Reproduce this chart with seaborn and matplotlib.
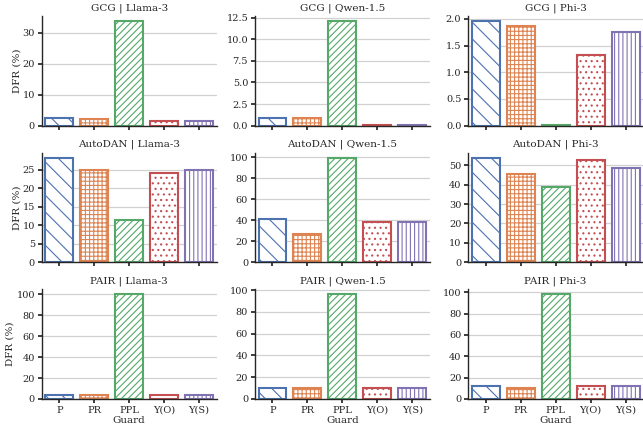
import numpy as np
import pandas as pd
import seaborn as sns
import matplotlib
matplotlib.use("Agg")
import matplotlib.pyplot as plt
from matplotlib.ticker import MaxNLocator

guards = ["P", "PR", "PPL", "Y(O)", "Y(S)"]
attacks = ["GCG", "AutoDAN", "PAIR"]
models = ["Llama-3", "Qwen-1.5", "Phi-3"]

gcg_llama = [2.6, 2.2, 33.8, 1.6, 1.6]
gcg_qwen = [0.9, 0.85, 12.1, 0.05, 0.03]
gcg_phi = [1.96, 1.86, 0.01, 1.32, 1.76]
autodan_llama = [28.3, 25.1, 11.5, 24.2, 25.1]
autodan_qwen = [41.0, 27.0, 99.7, 38.5, 38.8]
autodan_phi = [53.8, 45.5, 38.6, 52.8, 48.5]
pair_llama = [4.0, 4.0, 100.0, 4.0, 4.0]
pair_qwen = [10.0, 10.0, 96.0, 10.0, 10.0]
pair_phi = [12.0, 10.0, 98.0, 12.0, 12.0]

values = {
    ("GCG", "Llama-3"): gcg_llama, ("GCG", "Qwen-1.5"): gcg_qwen, ("GCG", "Phi-3"): gcg_phi,
    ("AutoDAN", "Llama-3"): autodan_llama, ("AutoDAN", "Qwen-1.5"): autodan_qwen, ("AutoDAN", "Phi-3"): autodan_phi,
    ("PAIR", "Llama-3"): pair_llama, ("PAIR", "Qwen-1.5"): pair_qwen, ("PAIR", "Phi-3"): pair_phi,
}

rows = []
for a in attacks:
    for m in models:
        for g, v in zip(guards, values[(a, m)]):
            rows.append({"Attack": a, "Model": m, "Guard": g, "DFR (%)": v})
df = pd.DataFrame(rows)

sns.set_theme(style="ticks", font="serif",
              rc={"axes.grid": True, "axes.grid.axis": "y", "grid.color": ".82",
                  "grid.linewidth": 0.9, "font.size": 7.5, "axes.titlesize": 7.5,
                  "axes.labelsize": 7.5, "xtick.labelsize": 7, "ytick.labelsize": 7,
                  "axes.linewidth": 1.0, "xtick.major.size": 3, "ytick.major.size": 3,
                  "xtick.major.pad": 2, "ytick.major.pad": 2, "axes.labelpad": 1,
                  "axes.titlepad": 4, "hatch.linewidth": 0.8})
plt.rcParams["font.family"] = ["DejaVu Serif"]

palette = sns.color_palette("deep", 5)
hatches = ["\\\\", "++++", "/////", "...", "||||"]

g = sns.catplot(data=df, kind="bar", x="Guard", y="DFR (%)", hue="Guard",
                col="Model", row="Attack", sharey=False, sharex=True,
                palette=palette, legend=False, height=1.43, aspect=1.5,
                order=guards, hue_order=guards, row_order=attacks, col_order=models)
g.set_titles("{row_name} | {col_name}")

for ax in g.axes.flat:
    for i, cont in enumerate(ax.containers):
        for bar in cont:
            bar.set_facecolor("white")
            bar.set_edgecolor(palette[i])
            bar.set_hatch(hatches[i])
            bar.set_linewidth(1.5)
    ax.set_xlim(-0.5, 4.5)
    ax.yaxis.set_major_locator(MaxNLocator(nbins=6, steps=[1, 2, 2.5, 5, 10]))

fig = g.figure
fig.set_size_inches(6.43, 4.29)
fig.subplots_adjust(left=0.065, right=1.0, top=0.963, bottom=0.07, wspace=0.22, hspace=0.245)
fig.savefig("out.png", dpi=100)
